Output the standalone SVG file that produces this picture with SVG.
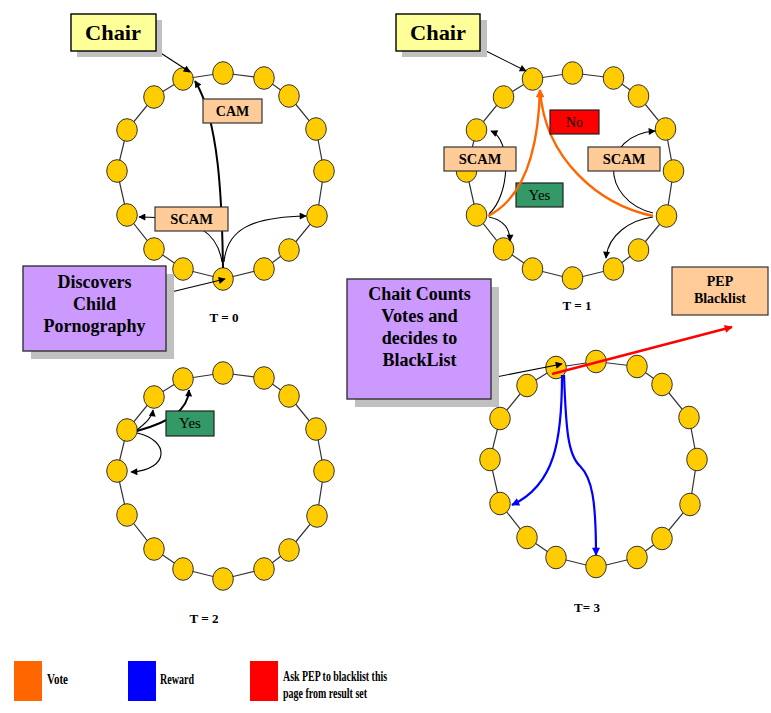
<svg xmlns="http://www.w3.org/2000/svg" width="771" height="713" viewBox="0 0 771 713">
  <style>
    .ring { fill: none; stroke: #333; stroke-width: 1.2; }
    .node { fill: #FFCC00; stroke: #333; stroke-width: 1; }
    .edge { fill: none; stroke: #000; stroke-width: 1.1; }
    .thick { fill: none; stroke: #000; stroke-width: 2; }
    .vote { fill: none; stroke: #FF6600; stroke-width: 2.4; }
    .reward { fill: none; stroke: #0000FF; stroke-width: 2.2; }
    .ask { fill: none; stroke: #FF0000; stroke-width: 2.4; }
    .shadow { fill: #C0C0C0; }
    .chair { fill: #FFFF99; stroke: #000; stroke-width: 1.4; }
    .peach { fill: #FFCC99; stroke: #333; stroke-width: 1.2; }
    .purple { fill: #CC99FF; stroke: #333; stroke-width: 1.4; }
    .yes { fill: #339966; stroke: #222; stroke-width: 1.2; }
    .no { fill: #FF0000; stroke: #222; stroke-width: 1.2; }
  </style>
  <defs>
    <marker id="ah" viewBox="0 0 10 10" refX="9" refY="5" markerWidth="8" markerHeight="7" markerUnits="userSpaceOnUse" orient="auto">
      <path d="M0,0 L10,5 L0,10 z" fill="#000"/>
    </marker>
    <marker id="ah-vote" viewBox="0 0 10 10" refX="9" refY="5" markerWidth="10" markerHeight="8" markerUnits="userSpaceOnUse" orient="auto">
      <path d="M0,0 L10,5 L0,10 z" fill="#FF6600"/>
    </marker>
    <marker id="ah-reward" viewBox="0 0 10 10" refX="9" refY="5" markerWidth="9" markerHeight="8" markerUnits="userSpaceOnUse" orient="auto">
      <path d="M0,0 L10,5 L0,10 z" fill="#0000FF"/>
    </marker>
    <marker id="ah-ask" viewBox="0 0 10 10" refX="9" refY="5" markerWidth="10" markerHeight="8" markerUnits="userSpaceOnUse" orient="auto">
      <path d="M0,0 L10,5 L0,10 z" fill="#FF0000"/>
    </marker>
    <!-- ring of 16 peers, in local coordinates -->
    <polygon id="ring-line" class="ring" points="223,73 264,78 289,96 316,129 324,171 317,216 289,250 264,269 223,279 183,269 154,249 127,215 117,171 127,130 154,97 183,79"/>
  </defs>

  <!-- ===== Rings of peers ===== -->
  <g id="ring-t0">
    <use href="#ring-line"/>
    <g id="t0-n0"><ellipse class="node" cx="223" cy="73" rx="10.3" ry="11.3"/></g>
    <g id="t0-n1"><ellipse class="node" cx="264" cy="78" rx="10.3" ry="11.3"/></g>
    <g id="t0-n2"><ellipse class="node" cx="289" cy="96" rx="10.3" ry="11.3"/></g>
    <g id="t0-n3"><ellipse class="node" cx="316" cy="129" rx="10.3" ry="11.3"/></g>
    <g id="t0-n4"><ellipse class="node" cx="324" cy="171" rx="10.3" ry="11.3"/></g>
    <g id="t0-n5"><ellipse class="node" cx="317" cy="216" rx="10.3" ry="11.3"/></g>
    <g id="t0-n6"><ellipse class="node" cx="289" cy="250" rx="10.3" ry="11.3"/></g>
    <g id="t0-n7"><ellipse class="node" cx="264" cy="269" rx="10.3" ry="11.3"/></g>
    <g id="t0-n8"><ellipse class="node" cx="223" cy="279" rx="10.3" ry="11.3"/></g>
    <g id="t0-n9"><ellipse class="node" cx="183" cy="269" rx="10.3" ry="11.3"/></g>
    <g id="t0-n10"><ellipse class="node" cx="154" cy="249" rx="10.3" ry="11.3"/></g>
    <g id="t0-n11"><ellipse class="node" cx="127" cy="215" rx="10.3" ry="11.3"/></g>
    <g id="t0-n12"><ellipse class="node" cx="117" cy="171" rx="10.3" ry="11.3"/></g>
    <g id="t0-n13"><ellipse class="node" cx="127" cy="130" rx="10.3" ry="11.3"/></g>
    <g id="t0-n14"><ellipse class="node" cx="154" cy="97" rx="10.3" ry="11.3"/></g>
    <g id="t0-n15"><ellipse class="node" cx="183" cy="79" rx="10.3" ry="11.3"/></g>
  </g>

  <g id="ring-t1" transform="translate(349.5,0)">
    <use href="#ring-line"/>
    <g id="t1-n0"><ellipse class="node" cx="223" cy="73" rx="10.3" ry="11.3"/></g>
    <g id="t1-n1"><ellipse class="node" cx="264" cy="78" rx="10.3" ry="11.3"/></g>
    <g id="t1-n2"><ellipse class="node" cx="289" cy="96" rx="10.3" ry="11.3"/></g>
    <g id="t1-n3"><ellipse class="node" cx="316" cy="129" rx="10.3" ry="11.3"/></g>
    <g id="t1-n4"><ellipse class="node" cx="324" cy="171" rx="10.3" ry="11.3"/></g>
    <g id="t1-n5"><ellipse class="node" cx="317" cy="216" rx="10.3" ry="11.3"/></g>
    <g id="t1-n6"><ellipse class="node" cx="289" cy="250" rx="10.3" ry="11.3"/></g>
    <g id="t1-n7"><ellipse class="node" cx="264" cy="269" rx="10.3" ry="11.3"/></g>
    <g id="t1-n8"><ellipse class="node" cx="223" cy="278" rx="10.3" ry="11.3"/></g>
    <g id="t1-n9"><ellipse class="node" cx="183" cy="269" rx="10.3" ry="11.3"/></g>
    <g id="t1-n10"><ellipse class="node" cx="154" cy="249" rx="10.3" ry="11.3"/></g>
    <g id="t1-n11"><ellipse class="node" cx="127" cy="215" rx="10.3" ry="11.3"/></g>
    <g id="t1-n12"><ellipse class="node" cx="117" cy="171" rx="10.3" ry="11.3"/></g>
    <g id="t1-n13"><ellipse class="node" cx="127" cy="130" rx="10.3" ry="11.3"/></g>
    <g id="t1-n14"><ellipse class="node" cx="154" cy="97" rx="10.3" ry="11.3"/></g>
    <g id="t1-n15"><ellipse class="node" cx="183" cy="79" rx="10.3" ry="11.3"/></g>
  </g>

  <g id="ring-t2" transform="translate(0,300)">
    <use href="#ring-line"/>
    <g id="t2-n0"><ellipse class="node" cx="223" cy="73" rx="10.3" ry="11.3"/></g>
    <g id="t2-n1"><ellipse class="node" cx="264" cy="78" rx="10.3" ry="11.3"/></g>
    <g id="t2-n2"><ellipse class="node" cx="289" cy="96" rx="10.3" ry="11.3"/></g>
    <g id="t2-n3"><ellipse class="node" cx="316" cy="129" rx="10.3" ry="11.3"/></g>
    <g id="t2-n4"><ellipse class="node" cx="324" cy="171" rx="10.3" ry="11.3"/></g>
    <g id="t2-n5"><ellipse class="node" cx="317" cy="216" rx="10.3" ry="11.3"/></g>
    <g id="t2-n6"><ellipse class="node" cx="289" cy="250" rx="10.3" ry="11.3"/></g>
    <g id="t2-n7"><ellipse class="node" cx="264" cy="269" rx="10.3" ry="11.3"/></g>
    <g id="t2-n8"><ellipse class="node" cx="223" cy="279" rx="10.3" ry="11.3"/></g>
    <g id="t2-n9"><ellipse class="node" cx="183" cy="269" rx="10.3" ry="11.3"/></g>
    <g id="t2-n10"><ellipse class="node" cx="154" cy="249" rx="10.3" ry="11.3"/></g>
    <g id="t2-n11"><ellipse class="node" cx="127" cy="215" rx="10.3" ry="11.3"/></g>
    <g id="t2-n12"><ellipse class="node" cx="117" cy="171" rx="10.3" ry="11.3"/></g>
    <g id="t2-n13"><ellipse class="node" cx="127" cy="130" rx="10.3" ry="11.3"/></g>
    <g id="t2-n14"><ellipse class="node" cx="154" cy="97" rx="10.3" ry="11.3"/></g>
    <g id="t2-n15"><ellipse class="node" cx="183" cy="79" rx="10.3" ry="11.3"/></g>
  </g>

  <g id="ring-t3" transform="translate(373,288.5)">
    <use href="#ring-line"/>
    <g id="t3-n0"><ellipse class="node" cx="223" cy="73" rx="10.3" ry="11.3"/></g>
    <g id="t3-n1"><ellipse class="node" cx="264" cy="78" rx="10.3" ry="11.3"/></g>
    <g id="t3-n2"><ellipse class="node" cx="289" cy="96" rx="10.3" ry="11.3"/></g>
    <g id="t3-n3"><ellipse class="node" cx="316" cy="129" rx="10.3" ry="11.3"/></g>
    <g id="t3-n4"><ellipse class="node" cx="324" cy="171" rx="10.3" ry="11.3"/></g>
    <g id="t3-n5"><ellipse class="node" cx="317" cy="216" rx="10.3" ry="11.3"/></g>
    <g id="t3-n6"><ellipse class="node" cx="289" cy="250" rx="10.3" ry="11.3"/></g>
    <g id="t3-n7"><ellipse class="node" cx="264" cy="269" rx="10.3" ry="11.3"/></g>
    <g id="t3-n8"><ellipse class="node" cx="223" cy="278" rx="10.3" ry="11.3"/></g>
    <g id="t3-n9"><ellipse class="node" cx="183" cy="269" rx="10.3" ry="11.3"/></g>
    <g id="t3-n10"><ellipse class="node" cx="154" cy="249" rx="10.3" ry="11.3"/></g>
    <g id="t3-n11"><ellipse class="node" cx="127" cy="215" rx="10.3" ry="11.3"/></g>
    <g id="t3-n12"><ellipse class="node" cx="117" cy="171" rx="10.3" ry="11.3"/></g>
    <g id="t3-n13"><ellipse class="node" cx="127" cy="130" rx="10.3" ry="11.3"/></g>
    <g id="t3-n14"><ellipse class="node" cx="154" cy="97" rx="10.3" ry="11.3"/></g>
    <g id="t3-n15"><ellipse class="node" cx="183" cy="79" rx="10.3" ry="11.3"/></g>
  </g>

  <!-- vote label that sits under the orange votes -->
  <g id="t1-yes">
    <rect class="yes" x="516" y="183" width="47" height="24"/>
    <text x="528.6" y="200" style="font-family:'Liberation Serif',serif;font-size:14px" textLength="21.8" lengthAdjust="spacingAndGlyphs">Yes</text>
  </g>

  <!-- ===== Connectors ===== -->
  <g id="connectors">
    <!-- T = 0 -->
    <path class="edge" d="M156,50 L190,72" marker-end="url(#ah)"/>
    <path class="thick" d="M223,268 C222,200 219,120 195,81" marker-end="url(#ah)"/>
    <path class="edge" d="M222,262 C218,235 200,217 139,217" marker-end="url(#ah)"/>
    <path class="edge" d="M224,262 C227,230 250,217 306,216" marker-end="url(#ah)"/>
    <path class="edge" d="M167,293 L225,279" marker-end="url(#ah)"/>
    <!-- T = 1 -->
    <path class="edge" d="M480,48 L526,71" marker-end="url(#ah)"/>
    <path class="edge" d="M489,214 C510,195 512,140 491,131" marker-end="url(#ah)"/>
    <path class="edge" d="M489,217 C503,220 510,228 510,241" marker-end="url(#ah)"/>
    <path class="edge" d="M653,213 C600,200 600,135 655,131" marker-end="url(#ah)"/>
    <path class="edge" d="M653,217 C630,220 608,235 606,258" marker-end="url(#ah)"/>
    <path class="vote" d="M488,216 C520,200 538,160 540,90" marker-end="url(#ah-vote)"/>
    <path class="vote" d="M653,216 C600,205 545,160 540,90" marker-end="url(#ah-vote)"/>
    <!-- T = 2 -->
    <path class="edge" d="M137,430 C144,424 152,418 153,410" marker-end="url(#ah)"/>
    <path class="thick" d="M137,431 C170,422 188,410 189,390" marker-end="url(#ah)"/>
    <path class="edge" d="M137,433 C170,440 170,470 131,472" marker-end="url(#ah)"/>
    <!-- T = 3 -->
    <path class="edge" d="M491,378 L562,364" marker-end="url(#ah)"/>
    <path class="reward" d="M562,375 C562,440 555,485 512,505" marker-end="url(#ah-reward)"/>
    <path class="reward" d="M564,375 C566,430 568,455 580,466 C592,478 596,500 596,555" marker-end="url(#ah-reward)"/>
    <path class="ask" d="M552,374 L732,327" marker-end="url(#ah-ask)"/>
  </g>

  <!-- ===== Labels and callouts ===== -->
  <g id="t0-chair">
    <rect class="shadow" x="77" y="20" width="85" height="37"/>
    <rect class="chair" x="71" y="14" width="85" height="37"/>
    <text x="85" y="40" style="font-family:'Liberation Serif',serif;font-weight:bold;font-size:22px" textLength="56" lengthAdjust="spacingAndGlyphs">Chair</text>
  </g>
  <g id="t0-cam">
    <rect class="peach" x="203" y="99" width="59" height="24"/>
    <text x="215.8" y="116" style="font-family:'Liberation Serif',serif;font-weight:bold;font-size:14px" textLength="33.4" lengthAdjust="spacingAndGlyphs">CAM</text>
  </g>
  <g id="t0-scam">
    <rect class="peach" x="155" y="207" width="73" height="24"/>
    <text x="170.2" y="224" style="font-family:'Liberation Serif',serif;font-weight:bold;font-size:14.5px" textLength="42.7" lengthAdjust="spacingAndGlyphs">SCAM</text>
  </g>
  <g id="t0-discovers">
    <rect class="shadow" x="31" y="274" width="143" height="85"/>
    <rect class="purple" x="23" y="266" width="143" height="85"/>
    <text x="57.5" y="288" style="font-family:'Liberation Serif',serif;font-weight:bold;font-size:18px" textLength="74" lengthAdjust="spacingAndGlyphs">Discovers</text>
    <text x="73" y="310" style="font-family:'Liberation Serif',serif;font-weight:bold;font-size:18px" textLength="43" lengthAdjust="spacingAndGlyphs">Child</text>
    <text x="43.5" y="332" style="font-family:'Liberation Serif',serif;font-weight:bold;font-size:18px" textLength="102" lengthAdjust="spacingAndGlyphs">Pornography</text>
  </g>
  <g id="t0-caption"><text x="209.5" y="322" style="font-family:'Liberation Serif',serif;font-weight:bold;font-size:13px" textLength="29.1" lengthAdjust="spacingAndGlyphs">T = 0</text></g>

  <g id="t1-chair">
    <rect class="shadow" x="402" y="20" width="85" height="37"/>
    <rect class="chair" x="396" y="14" width="84" height="37"/>
    <text x="410" y="40" style="font-family:'Liberation Serif',serif;font-weight:bold;font-size:22px" textLength="56" lengthAdjust="spacingAndGlyphs">Chair</text>
  </g>
  <g id="t1-no">
    <rect class="no" x="550" y="110" width="49" height="24"/>
    <text x="566" y="127" style="font-family:'Liberation Serif',serif;font-size:14px" textLength="17.1" lengthAdjust="spacingAndGlyphs">No</text>
  </g>
  <g id="t1-scam-left">
    <rect class="peach" x="444" y="147" width="72" height="24"/>
    <text x="458.7" y="164" style="font-family:'Liberation Serif',serif;font-weight:bold;font-size:14.5px" textLength="42.7" lengthAdjust="spacingAndGlyphs">SCAM</text>
  </g>
  <g id="t1-scam-right">
    <rect class="peach" x="588" y="147" width="72" height="24"/>
    <text x="602.7" y="164" style="font-family:'Liberation Serif',serif;font-weight:bold;font-size:14.5px" textLength="42.7" lengthAdjust="spacingAndGlyphs">SCAM</text>
  </g>
  <g id="t1-caption"><text x="562.5" y="310" style="font-family:'Liberation Serif',serif;font-weight:bold;font-size:13px" textLength="29.1" lengthAdjust="spacingAndGlyphs">T = 1</text></g>

  <g id="t2-yes">
    <rect class="yes" x="166" y="411" width="48" height="25"/>
    <text x="179.1" y="428" style="font-family:'Liberation Serif',serif;font-size:14px" textLength="21.8" lengthAdjust="spacingAndGlyphs">Yes</text>
  </g>
  <g id="t2-caption"><text x="189.5" y="623" style="font-family:'Liberation Serif',serif;font-weight:bold;font-size:13px" textLength="29.1" lengthAdjust="spacingAndGlyphs">T = 2</text></g>

  <g id="t3-counts">
    <rect class="shadow" x="355" y="287" width="144" height="120"/>
    <rect class="purple" x="347" y="279" width="144" height="120"/>
    <text x="368.3" y="300" style="font-family:'Liberation Serif',serif;font-weight:bold;font-size:18px" textLength="102.5" lengthAdjust="spacingAndGlyphs">Chait Counts</text>
    <text x="381.3" y="322" style="font-family:'Liberation Serif',serif;font-weight:bold;font-size:18px" textLength="76.5" lengthAdjust="spacingAndGlyphs">Votes and</text>
    <text x="381.8" y="344" style="font-family:'Liberation Serif',serif;font-weight:bold;font-size:18px" textLength="75.5" lengthAdjust="spacingAndGlyphs">decides to</text>
    <text x="382.5" y="366" style="font-family:'Liberation Serif',serif;font-weight:bold;font-size:18px" textLength="74" lengthAdjust="spacingAndGlyphs">BlackList</text>
  </g>
  <g id="t3-pep">
    <rect class="peach" x="672" y="267" width="96" height="48"/>
    <text x="706.8" y="286" style="font-family:'Liberation Serif',serif;font-weight:bold;font-size:14px" textLength="26.4" lengthAdjust="spacingAndGlyphs">PEP</text>
    <text x="693.9" y="303" style="font-family:'Liberation Serif',serif;font-weight:bold;font-size:14px" textLength="52.1" lengthAdjust="spacingAndGlyphs">Blacklist</text>
  </g>
  <g id="t3-caption"><text x="574.1" y="612" style="font-family:'Liberation Serif',serif;font-weight:bold;font-size:13px" textLength="25.8" lengthAdjust="spacingAndGlyphs">T= 3</text></g>

  <!-- ===== Legend ===== -->
  <g id="legend">
    <rect x="14" y="661" width="28" height="40" fill="#FF6600"/>
    <text x="47" y="684" style="font-family:'Liberation Serif',serif;font-weight:bold;font-size:14px" textLength="21" lengthAdjust="spacingAndGlyphs">Vote</text>
    <rect x="128" y="661" width="28" height="40" fill="#0000FF"/>
    <text x="160" y="684" style="font-family:'Liberation Serif',serif;font-weight:bold;font-size:14px" textLength="34" lengthAdjust="spacingAndGlyphs">Reward</text>
    <rect x="250" y="661" width="28" height="40" fill="#FF0000"/>
    <text x="283" y="681" style="font-family:'Liberation Serif',serif;font-weight:bold;font-size:14px" textLength="104" lengthAdjust="spacingAndGlyphs">Ask PEP to blacklist this</text>
    <text x="283" y="698" style="font-family:'Liberation Serif',serif;font-weight:bold;font-size:14px" textLength="84" lengthAdjust="spacingAndGlyphs">page from result set</text>
  </g>
</svg>
